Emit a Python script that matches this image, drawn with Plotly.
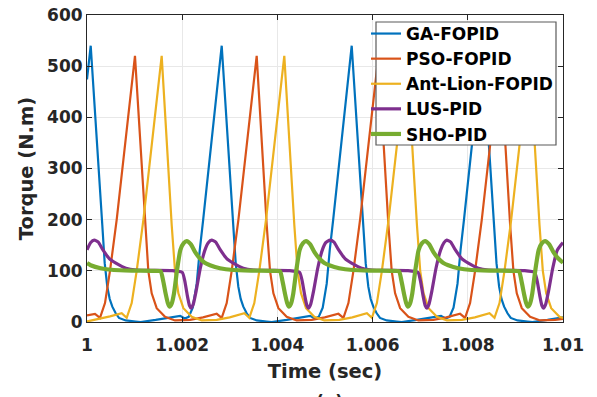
import plotly.graph_objects as go

# ---------------- data ----------------
ga_t = [1.000000, 1.000078, 1.000321, 1.000372, 1.000426, 1.000477, 1.000532, 1.000603, 1.000672, 1.000813, 1.001023, 1.001128, 1.001443,
        1.001958, 1.002053, 1.002137, 1.002221, 1.002305, 1.002368, 1.002441, 1.002830,
        1.003074, 1.003124, 1.003179, 1.003229, 1.003284, 1.003355, 1.003424, 1.003565, 1.003775, 1.003880, 1.004195,
        1.004689, 1.004784, 1.004868, 1.004952, 1.005036, 1.005099, 1.005172, 1.005561,
        1.005805, 1.005855, 1.005910, 1.005960, 1.006015, 1.006086, 1.006155, 1.006296, 1.006506, 1.006611, 1.006926,
        1.007437, 1.007532, 1.007616, 1.007700, 1.007784, 1.007847, 1.007920, 1.008309,
        1.008553, 1.008603, 1.008658, 1.008708, 1.008763, 1.008834, 1.008903, 1.009044, 1.009254, 1.009359, 1.009674, 1.010000]
ga_v = [474, 540, 190, 115, 69, 45, 30, 17, 8, 3, 1, 0, 4,
        12, 7, 10, 28, 75, 140, 200, 540,
        190, 115, 69, 45, 30, 17, 8, 3, 1, 0, 4,
        12, 7, 10, 28, 75, 140, 200, 540,
        190, 115, 69, 45, 30, 17, 8, 3, 1, 0, 4,
        12, 7, 10, 28, 75, 140, 200, 540,
        190, 115, 69, 45, 30, 17, 8, 3, 1, 0, 4, 9]

pso_t = [1.000000, 1.000168, 1.000273, 1.000378, 1.000483, 1.000624, 1.001008, 1.001218, 1.001288, 1.001359, 1.001464, 1.001639, 1.001849, 1.002164, 1.002437,
         1.002725, 1.002830, 1.002935, 1.003040, 1.003181, 1.003565, 1.003775, 1.003845, 1.003916, 1.004021, 1.004195, 1.004405, 1.004721, 1.004994,
         1.005282, 1.005387, 1.005492, 1.005597, 1.005737, 1.006122, 1.006332, 1.006401, 1.006473, 1.006578, 1.006752, 1.006962, 1.007277, 1.007550,
         1.007838, 1.007943, 1.008048, 1.008153, 1.008294, 1.008679, 1.008889, 1.008958, 1.009029, 1.009134, 1.009309, 1.009519, 1.009834, 1.010000]
pso_v = [13, 16, 8, 37, 100, 200, 520, 190, 100, 56, 27, 10, 3, 4, 9,
         16, 8, 37, 100, 200, 520, 190, 100, 56, 27, 10, 3, 4, 9,
         16, 8, 37, 100, 200, 520, 190, 100, 56, 27, 10, 3, 4, 9,
         16, 8, 37, 100, 200, 520, 190, 100, 56, 27, 10, 3, 4, 6]

ant_t = [1.000000, 1.000210, 1.000483, 1.000729, 1.000834, 1.000939, 1.001044, 1.001185, 1.001569, 1.001779, 1.001849, 1.001920, 1.002025, 1.002200, 1.002410, 1.002725, 1.002998,
         1.003305, 1.003410, 1.003515, 1.003620, 1.003761, 1.004145, 1.004355, 1.004424, 1.004496, 1.004601, 1.004775, 1.004985, 1.005300, 1.005574,
         1.005880, 1.005985, 1.006090, 1.006195, 1.006336, 1.006721, 1.006931, 1.007000, 1.007071, 1.007176, 1.007351, 1.007561, 1.007876, 1.008149,
         1.008456, 1.008561, 1.008666, 1.008771, 1.008912, 1.009296, 1.009506, 1.009576, 1.009647, 1.009752, 1.009926, 1.010000]
ant_v = [1, 5, 11, 17, 8, 37, 100, 200, 520, 190, 100, 56, 27, 10, 3, 4, 9,
         17, 8, 37, 100, 200, 520, 190, 100, 56, 27, 10, 3, 4, 9,
         17, 8, 37, 100, 200, 520, 190, 100, 56, 27, 10, 3, 4, 9,
         17, 8, 37, 100, 200, 520, 190, 100, 56, 27, 10, 8]

lus_t = [1.000000, 1.000074, 1.000153, 1.000237, 1.000321, 1.000468, 1.000607, 1.000817, 1.001036, 1.001414, 1.001792, 1.002002, 1.002055, 1.002107, 1.002153, 1.002187, 1.002233, 1.002296, 1.002380, 1.002475, 1.002548,
         1.002620, 1.002704, 1.002788, 1.002935, 1.003074, 1.003284, 1.003502, 1.003880, 1.004258, 1.004468, 1.004521, 1.004574, 1.004620, 1.004653, 1.004700, 1.004763, 1.004847, 1.004941, 1.005015,
         1.005105, 1.005189, 1.005273, 1.005420, 1.005559, 1.005769, 1.005987, 1.006366, 1.006744, 1.006954, 1.007006, 1.007059, 1.007105, 1.007139, 1.007185, 1.007248, 1.007332, 1.007426, 1.007500,
         1.007557, 1.007641, 1.007725, 1.007872, 1.008011, 1.008221, 1.008439, 1.008817, 1.009195, 1.009405, 1.009458, 1.009511, 1.009557, 1.009590, 1.009637, 1.009700, 1.009784, 1.009878, 1.009952, 1.010000]
lus_v = [141, 155, 160, 156, 143, 124, 115, 105, 101.5, 101, 100.5, 97, 80, 52, 32, 27, 35, 62, 105, 140, 155,
         160, 156, 143, 124, 115, 105, 101.5, 101, 100.5, 97, 80, 52, 32, 27, 35, 62, 105, 140, 155,
         160, 156, 143, 124, 115, 105, 101.5, 101, 100.5, 97, 80, 52, 32, 27, 35, 62, 105, 140, 155,
         160, 156, 143, 124, 115, 105, 101.5, 101, 100.5, 97, 80, 52, 32, 27, 35, 62, 105, 140, 150, 155]

sho_t = [1.000000, 1.000076, 1.000286, 1.000565, 1.000952, 1.001372, 1.001548, 1.001601, 1.001653, 1.001695, 1.001733, 1.001779, 1.001828, 1.001891, 1.001962, 1.002032,
         1.002095, 1.002179, 1.002269, 1.002374, 1.002473, 1.002584, 1.002794, 1.003074, 1.003460, 1.003880, 1.004055, 1.004107, 1.004160, 1.004202, 1.004239, 1.004286, 1.004334, 1.004397, 1.004468, 1.004538,
         1.004601, 1.004685, 1.004775, 1.004880, 1.004979, 1.005090, 1.005300, 1.005580, 1.005966, 1.006387, 1.006555, 1.006607, 1.006660, 1.006702, 1.006739, 1.006786, 1.006834, 1.006897, 1.006968, 1.007038,
         1.007101, 1.007185, 1.007275, 1.007380, 1.007479, 1.007590, 1.007800, 1.008080, 1.008466, 1.008887, 1.009076, 1.009128, 1.009181, 1.009223, 1.009261, 1.009307, 1.009355, 1.009418, 1.009490, 1.009559,
         1.009622, 1.009706, 1.009796, 1.009901, 1.010000]
sho_v = [115, 111, 105, 101.6, 100.5, 100, 99, 80, 55, 38, 30, 36, 56, 101, 141, 154,
         158, 152, 137, 124, 116, 111, 105, 101.6, 100.5, 100, 99, 80, 55, 38, 30, 36, 56, 101, 141, 154,
         158, 152, 137, 124, 116, 111, 105, 101.6, 100.5, 100, 99, 80, 55, 38, 30, 36, 56, 101, 141, 154,
         158, 152, 137, 124, 116, 111, 105, 101.6, 100.5, 100, 99, 80, 55, 38, 30, 36, 56, 101, 141, 154,
         158, 152, 137, 124, 116]

series_names = ["GA-FOPID", "PSO-FOPID", "Ant-Lion-FOPID", "LUS-PID", "SHO-PID"]
x_tickvals = [1, 1.002, 1.004, 1.006, 1.008, 1.01]
x_ticktext = ["1", "1.002", "1.004", "1.006", "1.008", "1.01"]
y_tickvals = [0, 100, 200, 300, 400, 500, 600]

# ---------------- styling ----------------
colors = ["#0072BD", "#D95319", "#EDB120", "#7E2F8E", "#77AC30"]
widths = [2.2, 2.2, 2.2, 3.2, 4.2]
shapes_ = ["linear", "linear", "linear", "spline", "spline"]
font_fam = "DejaVu Sans, Liberation Sans, Arial, sans-serif"
ink = "#262626"

fig = go.Figure()
data = [(ga_t, ga_v), (pso_t, pso_v), (ant_t, ant_v), (lus_t, lus_v), (sho_t, sho_v)]
for i, (t, v) in enumerate(data):
    fig.add_trace(go.Scatter(
        x=t, y=v, mode="lines", name=series_names[i],
        line=dict(color=colors[i], width=widths[i], shape=shapes_[i],
                  smoothing=0.5 if shapes_[i] == "spline" else None),
    ))

axis_common = dict(
    showline=True, linecolor=ink, linewidth=1, mirror="ticks",
    ticks="inside", ticklen=5, tickwidth=1, tickcolor=ink,
    showgrid=True, gridcolor="#e8e8e8", gridwidth=1,
    zeroline=False, automargin=False,
    tickfont=dict(family=font_fam, size=17, color=ink, weight="bold"),
)

# legend box (drawn as a shape so the entries can sit where the reference has them)
box_x0, box_x1 = (376 - 87) / 476, (556 - 87) / 476
box_y0, box_y1 = (322 - 145) / 307, (322 - 22) / 307

fig.update_layout(
    width=597, height=397,
    margin=dict(l=87, r=34, t=15, b=75, autoexpand=False),
    paper_bgcolor="white", plot_bgcolor="white",
    font=dict(family=font_fam, color=ink, weight="bold"),
    showlegend=True,
    legend=dict(
        x=(366 - 87) / 476, y=(322 - 16) / 307, xanchor="left", yanchor="top",
        bgcolor="rgba(0,0,0,0)", borderwidth=0,
        font=dict(family=font_fam, size=17, color="black", weight="bold"),
        itemwidth=30, tracegroupgap=0,
    ),
    shapes=[dict(type="rect", xref="paper", yref="paper",
                 x0=box_x0, x1=box_x1, y0=box_y0, y1=box_y1,
                 line=dict(color="#5a5a5a", width=1.2), fillcolor="white", layer="above")],
    xaxis=dict(range=[1, 1.01], tickvals=x_tickvals, ticktext=x_ticktext,
               ticklabelstandoff=8,
               title=dict(text="Time (sec)", font=dict(family=font_fam, size=19.5, color=ink, weight="bold"), standoff=9),
               **axis_common),
    yaxis=dict(range=[0, 600], tickvals=y_tickvals,
               title=dict(text="Torque (N.m)", font=dict(family=font_fam, size=19.5, color=ink, weight="bold"), standoff=8),
               **axis_common),
    annotations=[dict(text="(a)", x=0.51, y=-0.222, xref="paper", yref="paper",
                      xanchor="center", yanchor="top", showarrow=False,
                      font=dict(family=font_fam, size=17, color=ink, weight="bold"))],
)

fig.write_html("out.html")
